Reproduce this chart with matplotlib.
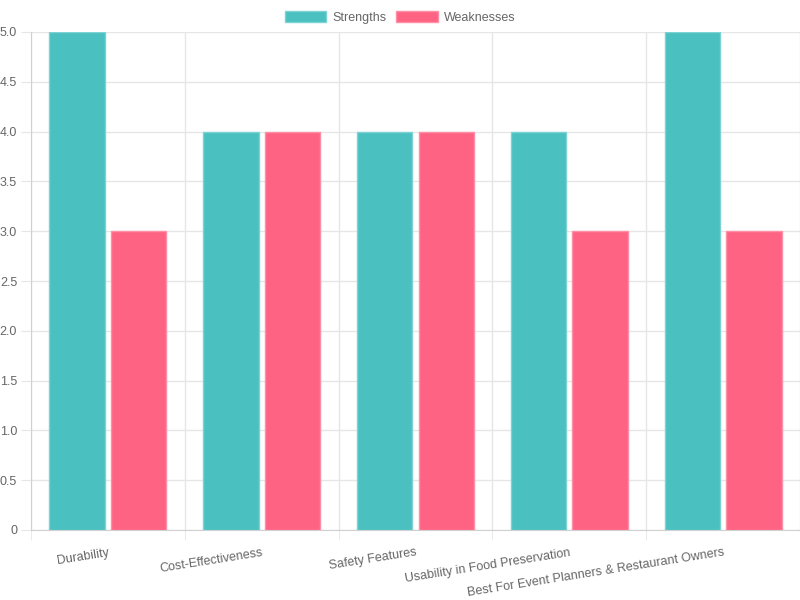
import numpy as np
import matplotlib.pyplot as plt
from matplotlib.patches import Patch

categories = ['Durability', 'Cost-Effectiveness', 'Safety Features',
              'Usability in Food Preservation', 'Best For Event Planners & Restaurant Owners']
strengths = [5, 4, 4, 4, 5]
weaknesses = [3, 4, 4, 3, 3]

teal = '#4BC0C0'
pink = '#FF6384'
grid_c = '#e6e6e6'
text_c = '#666666'

plt.rcParams['font.family'] = ['Liberation Sans', 'DejaVu Sans']

fig = plt.figure(figsize=(8, 6), dpi=100)
ax = fig.add_axes([31/800, 70/600, 769/800, 498/600])

x = np.arange(len(categories))
w = 0.8 / 2 * 0.9
off = 0.8 / 4
ax.bar(x - off, strengths, w, color=teal, edgecolor='#7dd3d3', linewidth=1, zorder=3)
ax.bar(x + off, weaknesses, w, color=pink, edgecolor='#ff8fa6', linewidth=1, zorder=3)

ax.set_xlim(-0.5, len(categories) - 0.5)
ax.set_ylim(0, 5)
ax.set_yticks(np.arange(0, 5.01, 0.5))
ax.set_yticklabels(['0'] + [f'{v:.1f}' for v in np.arange(0.5, 5.01, 0.5)])
ax.grid(axis='y', color=grid_c, linewidth=1, zorder=0)

# category boundaries as minor ticks / vertical grid
ax.set_xticks(np.arange(-0.5, len(categories), 1), minor=True)
ax.grid(axis='x', which='minor', color=grid_c, linewidth=1, zorder=0)
ax.set_xticks(x)
ax.set_xticklabels(categories, rotation=9, ha='right', rotation_mode='anchor')
ax.tick_params(axis='x', which='major', length=0, pad=12, labelsize=9, labelcolor=text_c)
ax.tick_params(axis='x', which='minor', length=7, color=grid_c)
ax.tick_params(axis='y', length=7, color=grid_c, labelsize=9, labelcolor=text_c, pad=3)

for s in ['top', 'right']:
    ax.spines[s].set_visible(False)
ax.spines['left'].set_color('#d0d0d0')
ax.spines['bottom'].set_color('#d0d0d0')

handles = [Patch(facecolor=teal, edgecolor='#7dd3d3'), Patch(facecolor=pink, edgecolor='#ff8fa6')]
fig.legend(handles, ['Strengths', 'Weaknesses'], loc='upper center', bbox_to_anchor=(0.5, 1.0),
           ncol=2, frameon=False, fontsize=9, labelcolor=text_c,
           handlelength=3.3, handleheight=1.0, columnspacing=0.8, handletextpad=0.5)

plt.savefig('out.png', dpi=100)
